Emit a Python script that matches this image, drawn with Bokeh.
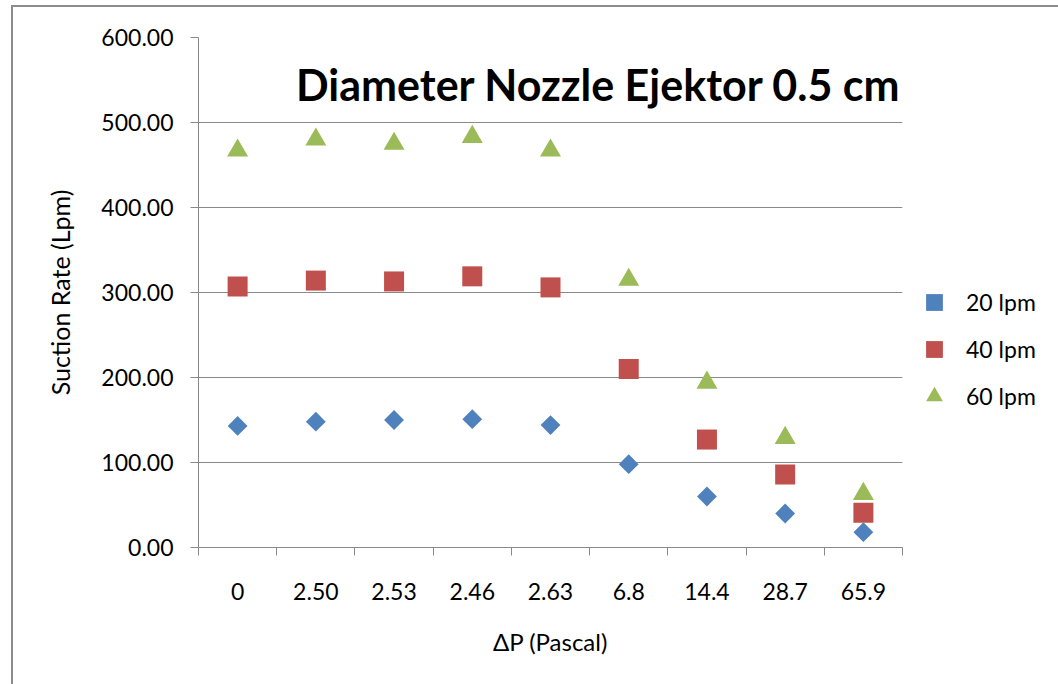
import numpy as np
from bokeh.plotting import figure
from bokeh.models import (Range1d, FixedTicker, NumeralTickFormatter, Legend,
                          LegendItem, Label, ColumnDataSource,
                          GlobalInlineStyleSheet)
from bokeh.embed import file_html
from bokeh.resources import INLINE

# ---- data ----
categories = ["0", "2.50", "2.53", "2.46", "2.63", "6.8", "14.4", "28.7", "65.9"]
lpm20 = [143, 148, 150, 151, 144, 98, 60, 40, 18]
lpm40 = [307, 314, 313, 319, 306, 210, 127, 86, 41]
lpm60 = [467, 480, 475, 483, 467, 315, 194, 129, 63]
series_names = ["20 lpm", "40 lpm", "60 lpm"]
y_ticks = [0, 100, 200, 300, 400, 500, 600]
title_text = "Diameter Nozzle Ejektor 0.5 cm"
x_title = "\u0394P (Pascal)"
y_title = "Suction Rate (Lpm)"

FONT = "Lato"
GRAY = "#898989"

n = len(categories)
xpos = np.arange(n) + 0.5

src = ColumnDataSource(dict(x=xpos, a=lpm20, b=lpm40, c=lpm60))

p = figure(frame_width=704, frame_height=510, output_backend="svg",
           toolbar_location=None,
           x_range=Range1d(0, n), y_range=Range1d(0, 600),
           min_border_left=198, min_border_right=151,
           min_border_top=37, min_border_bottom=131)
p.outline_line_color = None
p.background_fill_color = "white"
p.border_fill_color = "white"
# outer chart-area frame (left and top edges only), drawn by the page
p.stylesheets = [GlobalInlineStyleSheet(css=(
    "body::before{content:'';position:fixed;left:11px;top:5px;width:2px;"
    "bottom:0;background:#8c8c8c;pointer-events:none;z-index:100;}"
    "body::after{content:'';position:fixed;left:11px;top:5px;height:2px;"
    "right:0;background:#8c8c8c;pointer-events:none;z-index:100;}"))]

r1 = p.scatter("x", "a", source=src, marker="square", angle=np.pi / 4, size=14,
               fill_color="#4F81BD", line_color=None)
r2 = p.scatter("x", "b", source=src, marker="square", size=20,
               fill_color="#C0504D", line_color=None)
r3 = p.scatter("x", "c", source=src, marker="triangle", size=21,
               fill_color="#9BBB59", line_color=None)

# x axis
xa = p.xaxis[0]
xa.ticker = FixedTicker(ticks=list(xpos), minor_ticks=list(range(n + 1)))
xa.major_label_overrides = {float(v): c for v, c in zip(xpos, categories)}
xa.major_tick_out = 0
xa.major_tick_in = 0
xa.major_tick_line_color = None
xa.minor_tick_out = 8
xa.minor_tick_in = 0
xa.minor_tick_line_color = GRAY
xa.axis_line_color = GRAY
xa.major_label_text_font = FONT
xa.major_label_text_font_size = "23px"
xa.major_label_text_color = "black"
xa.major_label_standoff = 27
xa.axis_label = x_title
xa.axis_label_text_font = FONT
xa.axis_label_text_font_style = "normal"
xa.axis_label_text_font_size = "24px"
xa.axis_label_text_color = "black"
xa.axis_label_standoff = 24

# y axis
ya = p.yaxis[0]
ya.ticker = FixedTicker(ticks=y_ticks)
ya.formatter = NumeralTickFormatter(format="0.00")
ya.major_tick_out = 8
ya.major_tick_in = 0
ya.major_tick_line_color = GRAY
ya.minor_tick_line_color = None
ya.axis_line_color = GRAY
ya.major_label_text_font = FONT
ya.major_label_text_font_size = "23px"
ya.major_label_text_color = "black"
ya.major_label_standoff = 17
ya.axis_label = y_title
ya.axis_label_text_font = FONT
ya.axis_label_text_font_style = "normal"
ya.axis_label_text_font_size = "25px"
ya.axis_label_text_color = "black"
ya.axis_label_standoff = 23

p.xgrid.grid_line_color = None
p.ygrid.ticker = FixedTicker(ticks=y_ticks)
p.ygrid.grid_line_color = GRAY
p.ygrid.grid_line_width = 1

# title inside plot
p.add_layout(Label(x=8.985, y=545, text=title_text, text_font=FONT,
                   text_font_style="bold", text_font_size="43px",
                   text_align="right", text_baseline="alphabetic",
                   text_color="black"))

legend = Legend(items=[LegendItem(label=series_names[0], renderers=[r1]),
                       LegendItem(label=series_names[1], renderers=[r2]),
                       LegendItem(label=series_names[2], renderers=[r3])],
                location="top_left", orientation="vertical",
                title=" ", title_text_font_size="10px", title_standoff=233,
                glyph_width=64, glyph_height=42, spacing=5, padding=18,
                margin=0, label_standoff=0, border_line_color=None,
                background_fill_alpha=0, label_text_font=FONT,
                label_text_font_size="23px", label_text_color="black")
p.add_layout(legend, "right")

open("out.html", "w").write(file_html(p, INLINE))
